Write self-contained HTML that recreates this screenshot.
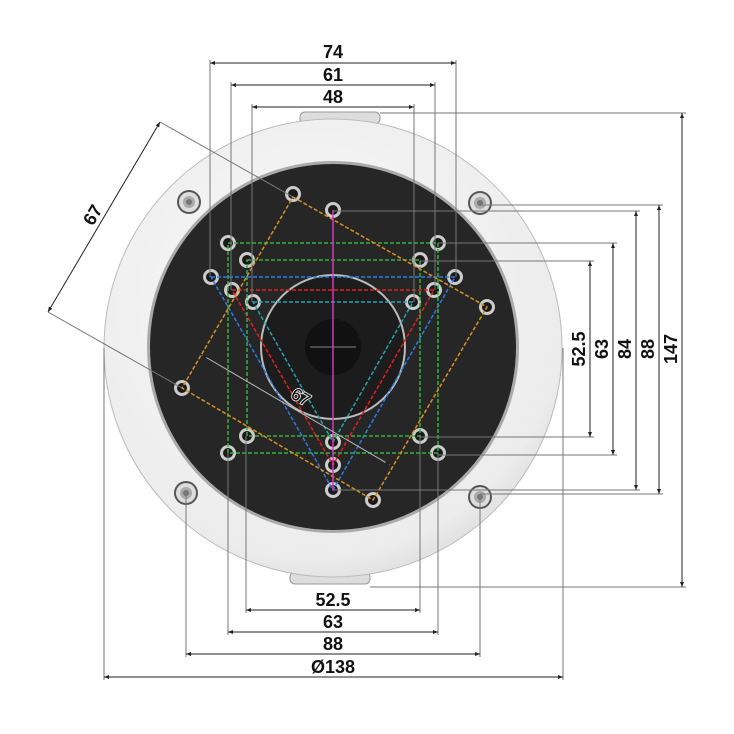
<!DOCTYPE html>
<html><head><style>body{margin:0;background:#fff}svg{display:block}text{font-family:"Liberation Sans",sans-serif;font-weight:bold;font-size:18px;fill:#111}</style></head><body>
<svg width="734" height="734" viewBox="0 0 734 734" xmlns="http://www.w3.org/2000/svg">
<defs>
<radialGradient id="wg" cx="0.45" cy="0.4" r="0.7"><stop offset="0" stop-color="#fafafa"/><stop offset="0.8" stop-color="#ececec"/><stop offset="1" stop-color="#cfcfcf"/></radialGradient>
<marker id="a" viewBox="0 0 10 10" refX="10" refY="5" markerWidth="8" markerHeight="5" orient="auto-start-reverse"><path d="M0,1L10,5L0,9z" fill="#222"/></marker>
<g id="h"><circle r="8" fill="#ccc"/><circle r="5" fill="#1a1a1a"/></g>
<g id="s"><circle r="12" fill="#555"/><circle r="10" fill="#ddd"/><circle r="6" fill="#aaa"/><circle r="3" fill="#777"/></g>
</defs>
<rect x="300" y="112" width="80" height="12" rx="5" fill="#ddd" stroke="#999"/>
<rect x="290" y="572" width="80" height="12" rx="5" fill="#ddd" stroke="#999"/>
<circle cx="333" cy="348" r="229" fill="url(#wg)" stroke="#bbb"/>
<circle cx="333" cy="347" r="186" fill="#aaa"/>
<circle cx="333" cy="347" r="183" fill="#262626"/>
<circle cx="333" cy="347" r="72" fill="#1c1c1c" stroke="#bbb" stroke-width="2"/>
<circle cx="333" cy="347" r="28" fill="#111"/>
<line x1="310" y1="347" x2="356" y2="347" stroke="#888"/>
<use href="#s" x="189" y="202"/><use href="#s" x="480" y="203"/><use href="#s" x="186" y="493"/><use href="#s" x="480" y="497"/>
<g>
<use href="#h" x="211" y="277"/><use href="#h" x="455" y="277"/><use href="#h" x="333" y="490"/>
<use href="#h" x="232" y="290"/><use href="#h" x="434" y="290"/><use href="#h" x="333" y="465"/>
<use href="#h" x="253" y="302"/><use href="#h" x="413" y="302"/><use href="#h" x="333" y="442"/>
<use href="#h" x="228" y="243"/><use href="#h" x="438" y="243"/><use href="#h" x="228" y="453"/><use href="#h" x="438" y="453"/>
<use href="#h" x="247" y="260"/><use href="#h" x="420" y="260"/><use href="#h" x="247" y="436"/><use href="#h" x="420" y="436"/>
<use href="#h" x="293" y="194"/><use href="#h" x="487" y="307"/><use href="#h" x="373" y="500"/><use href="#h" x="182" y="388"/>
<use href="#h" x="333" y="210"/>
</g>
<g fill="none" stroke-width="1.5" stroke-dasharray="4 2">
<polygon points="211,277 455,277 333,490" stroke="#2a7de0"/>
<polygon points="232,290 434,290 333,465" stroke="#e02020"/>
<polygon points="253,302 413,302 333,442" stroke="#2aa0b0"/>
<rect x="228" y="243" width="210" height="210" stroke="#30b040"/>
<rect x="247" y="260" width="173" height="176" stroke="#30b040"/>
<polygon points="293,197 487,307 373,500 182,388" stroke="#d89020"/>
<line x1="333" y1="210" x2="333" y2="490" stroke="#e030c0" stroke-dasharray="none"/>
</g>
<g stroke="#777" stroke-width="1">
<line x1="210" y1="60" x2="210" y2="277"/><line x1="456" y1="60" x2="456" y2="277"/>
<line x1="231" y1="82" x2="231" y2="290"/><line x1="435" y1="82" x2="435" y2="290"/>
<line x1="252" y1="104" x2="252" y2="302"/><line x1="414" y1="104" x2="414" y2="302"/>
<line x1="380" y1="113" x2="686" y2="113"/><line x1="480" y1="205" x2="663" y2="205"/>
<line x1="333" y1="211" x2="640" y2="211"/><line x1="438" y1="243" x2="617" y2="243"/>
<line x1="420" y1="261" x2="594" y2="261"/><line x1="420" y1="437" x2="594" y2="437"/>
<line x1="438" y1="455" x2="617" y2="455"/><line x1="333" y1="490" x2="640" y2="490"/>
<line x1="480" y1="494" x2="663" y2="494"/><line x1="370" y1="587" x2="686" y2="587"/>
<line x1="246" y1="436" x2="246" y2="613"/><line x1="420" y1="436" x2="420" y2="613"/>
<line x1="228" y1="453" x2="228" y2="635"/><line x1="438" y1="453" x2="438" y2="635"/>
<line x1="186" y1="493" x2="186" y2="657"/><line x1="480" y1="497" x2="480" y2="657"/>
<line x1="104" y1="348" x2="104" y2="680"/><line x1="563" y1="348" x2="563" y2="680"/>
<line x1="160" y1="122" x2="293" y2="197"/><line x1="48" y1="312" x2="182" y2="388"/>
</g>
<g stroke="#222" stroke-width="1" marker-start="url(#a)" marker-end="url(#a)">
<line x1="210" y1="63" x2="456" y2="63"/><line x1="231" y1="85" x2="435" y2="85"/><line x1="252" y1="107" x2="414" y2="107"/>
<line x1="682" y1="113" x2="682" y2="587"/><line x1="659" y1="205" x2="659" y2="494"/><line x1="636" y1="211" x2="636" y2="490"/>
<line x1="613" y1="243" x2="613" y2="455"/><line x1="590" y1="261" x2="590" y2="437"/>
<line x1="246" y1="610" x2="420" y2="610"/><line x1="228" y1="632" x2="438" y2="632"/>
<line x1="186" y1="654" x2="480" y2="654"/><line x1="104" y1="677" x2="563" y2="677"/>
<line x1="160" y1="122" x2="48" y2="312"/>
<line x1="202" y1="355" x2="390" y2="465" stroke="#bbb"/>
</g>
<text x="333" y="58" text-anchor="middle">74</text>
<text x="333" y="81" text-anchor="middle">61</text>
<text x="333" y="103" text-anchor="middle">48</text>
<text x="333" y="606" text-anchor="middle">52.5</text>
<text x="333" y="628" text-anchor="middle">63</text>
<text x="333" y="650" text-anchor="middle">88</text>
<text x="333" y="673" text-anchor="middle">Ø138</text>
<text transform="translate(585,349) rotate(-90)" text-anchor="middle">52.5</text>
<text transform="translate(608,349) rotate(-90)" text-anchor="middle">63</text>
<text transform="translate(631,349) rotate(-90)" text-anchor="middle">84</text>
<text transform="translate(654,349) rotate(-90)" text-anchor="middle">88</text>
<text transform="translate(677,349) rotate(-90)" text-anchor="middle">147</text>
<text transform="translate(98,218) rotate(-60)" text-anchor="middle">67</text>
<text transform="translate(298,402) rotate(30)" text-anchor="middle" style="font-weight:normal;font-size:17px;fill:#000;stroke:#ddd;stroke-width:2;paint-order:stroke">67</text>
</svg>
</body></html>
